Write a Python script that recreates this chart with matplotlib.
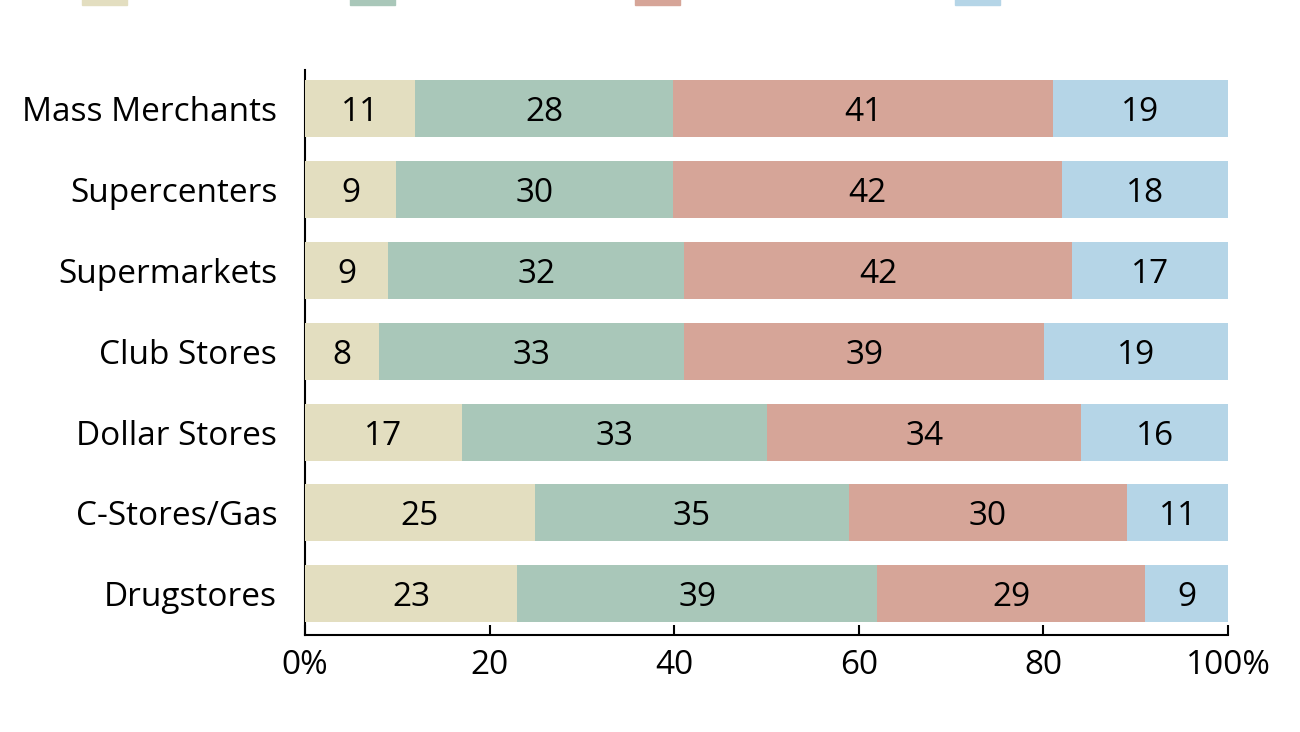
import matplotlib
matplotlib.use('Agg')
import matplotlib.pyplot as plt
from matplotlib.patches import Rectangle
import numpy as np

plt.rcParams['font.family'] = ['Open Sans', 'DejaVu Sans']

stores = ['Mass Merchants', 'Supercenters', 'Supermarkets', 'Club Stores',
          'Dollar Stores', 'C-Stores/Gas', 'Drugstores']
# shown labels
lab1 = [11, 9, 9, 8, 17, 25, 23]
lab2 = [28, 30, 32, 33, 33, 35, 39]
lab3 = [41, 42, 42, 39, 34, 30, 29]
lab4 = [19, 18, 17, 19, 16, 11, 9]
# segment widths as measured from the bars (labels are rounded)
seg1 = [11.9, 9.9, 9.0, 8.0, 17.0, 24.9, 23.0]
seg2 = [28.0, 30.0, 32.1, 33.1, 33.1, 34.0, 39.0]
seg3 = [41.1, 42.1, 42.0, 39.0, 34.0, 30.2, 29.0]
seg4 = [19.0, 18.0, 16.9, 19.9, 15.9, 10.9, 9.0]
colors = ['#E3DEC0', '#A9C7B9', '#D6A598', '#B5D5E7']

fig = plt.figure(figsize=(13, 7.32), dpi=100)
ax = fig.add_axes([0.2346, 0.1325, 0.71, 0.7719])

y = np.arange(len(stores))
left = np.zeros(len(stores))
for seg, lab, c in zip([seg1, seg2, seg3, seg4], [lab1, lab2, lab3, lab4], colors):
    bars = ax.barh(y, seg, left=left, height=0.705, color=c, zorder=1)
    txts = ax.bar_label(bars, labels=[str(v) for v in lab], label_type='center',
                        fontsize=24, color='black')
    for t in txts:
        t.set_va('center_baseline')
    left += np.array(seg)

ax.set_xlim(0, 100)
ax.set_ylim(6.51, -0.48)
ax.set_yticks(y)
ax.set_yticklabels(stores, fontsize=24)
ax.tick_params(axis='y', length=0, pad=20)
ax.set_xticks([0, 20, 40, 60, 80, 100])
ax.set_xticklabels(['0%', '20', '40', '60', '80', '100%'], fontsize=24)
ax.tick_params(axis='x', direction='in', length=7, width=1.5, pad=10)
for s in ['top', 'right']:
    ax.spines[s].set_visible(False)
ax.spines['left'].set_linewidth(1.5)
ax.spines['bottom'].set_linewidth(1.5)
ax.spines['left'].set_zorder(0)

# legend swatches cut off at the top edge
leg_x = [82, 350, 635, 955]
for lx, c in zip(leg_x, colors):
    fig.add_artist(Rectangle((lx / 1300, 1 - 5 / 732), 45 / 1300, 10 / 732,
                             transform=fig.transFigure, color=c))

fig.savefig('out.png', dpi=100)
